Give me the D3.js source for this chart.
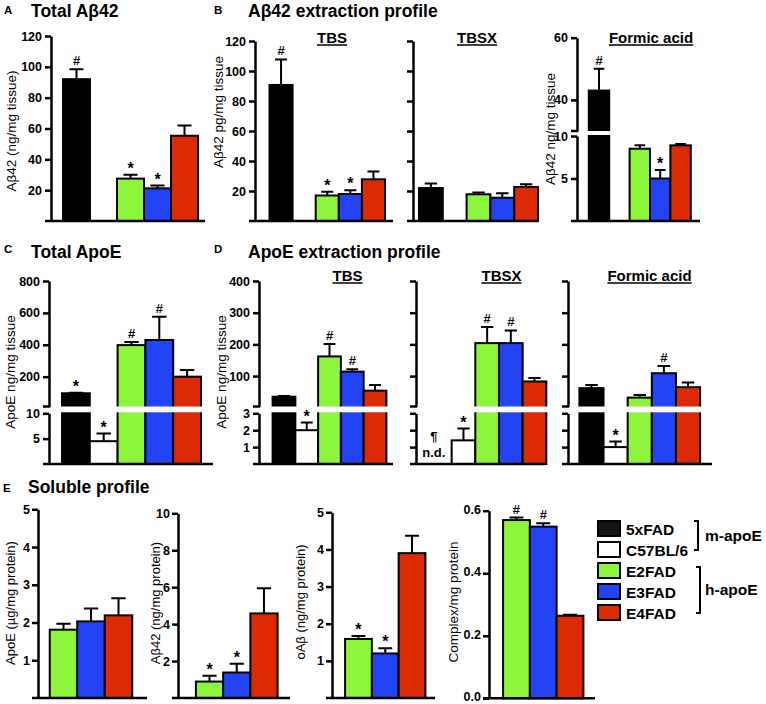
<!DOCTYPE html>
<html><head><meta charset="utf-8">
<script src="https://cdn.jsdelivr.net/npm/d3@7"></script>
<style>body{margin:0;background:#fff}svg{display:block}</style>
</head><body><svg id="c" width="766" height="704"></svg>
<script>
// ---------------- DATA ----------------
const groups = ["5xFAD", "C57BL/6", "E2FAD", "E3FAD", "E4FAD"];
const hGroups = ["E2FAD", "E3FAD", "E4FAD"];
const legendBrackets = [{label: "m-apoE", from: 0, to: 1}, {label: "h-apoE", from: 2, to: 4}];

// A  Total Aβ42 (ng/mg tissue)
const totalAb42     = [92, null, 27.5, 21.2, 55.3];
const totalAb42Sem  = [6.5, null, 2.5, 1.8, 6.7];
const totalAb42Sig  = ["#", "", "*", "*", ""];
// B  Aβ42 extraction profile
const tbsAb42       = [90.7, null, 17, 18, 27.8];
const tbsAb42Sem    = [17, null, 2.5, 2.5, 5.2];
const tbsAb42Sig    = ["#", "", "*", "*", ""];
const tbsxAb42      = [22, null, 17.8, 15.5, 22.7];
const tbsxAb42Sem   = [3, null, 1.2, 3, 1.8];
const tbsxAb42Sig   = ["", "", "", "", ""];
const faAb42        = [43, null, 8.5, 5.0, 8.9];
const faAb42Sem     = [7, null, 0.4, 1.0, 0.15];
const faAb42Sig     = ["#", "", "", "*", ""];
// C  Total ApoE (ng/mg tissue)
const totalApoE     = [96, 4.5, 398, 430, 200];
const totalApoESem  = [4, 1.5, 19, 146, 42];
const totalApoESig  = ["*", "*", "#", "#", ""];
// D  ApoE extraction profile
const tbsApoE       = [35, 2.0, 162, 114, 54];
const tbsApoESem    = [2, 0.45, 39, 7.5, 18];
const tbsApoESig    = ["", "*", "#", "#", ""];
const tbsxApoE      = [null, 1.4, 204, 204, 83];
const tbsxApoESem   = [null, 0.7, 51, 40, 11];
const tbsxApoESig   = ["¶", "*", "#", "#", ""];
const faApoE        = [62, 1.0, 32, 109, 65];
const faApoESem     = [10, 0.33, 8, 23, 14.5];
const faApoESig     = ["", "*", "", "#", ""];
// E  Soluble profile
const solApoE       = [1.81, 2.03, 2.19];
const solApoESem    = [0.16, 0.34, 0.45];
const solAb42       = [0.89, 1.38, 4.58];
const solAb42Sem    = [0.31, 0.47, 1.36];
const solAb42Sig    = ["*", "*", ""];
const solOAb        = [1.59, 1.20, 3.90];
const solOAbSem     = [0.08, 0.14, 0.47];
const solOAbSig     = ["*", "*", ""];
const complex       = [0.570, 0.549, 0.264];
const complexSem    = [0.008, 0.011, 0.003];
const complexSig    = ["#", "#", ""];

// ---------------- STYLE ----------------
const FONT = '"Liberation Sans", Arial, Helvetica, sans-serif';
const color = d3.scaleOrdinal().domain(groups).range(["#000000", "#ffffff", "#8cf53c", "#2244f6", "#dc2a04"]);
const svg = d3.select("#c").attr("font-family", FONT);

function brokenScale(lo, up) {
  const l = d3.scaleLinear().domain(lo.domain).range(lo.range);
  const u = up ? d3.scaleLinear().domain(up.domain).range(up.range) : null;
  const f = v => (u && v > lo.domain[1]) ? u(v) : l(v);
  f.lower = l; f.upper = u;
  return f;
}

function drawPanel(p) {
  const g = svg.append("g");
  const x = d3.scaleBand().domain(p.groups).range(p.xRange).paddingInner(0).paddingOuter(0);
  const y = brokenScale(p.lower, p.upper);
  const base = p.lower.range[0];
  const rows = p.groups.map((name, i) => ({name, v: p.values[i], e: p.sem[i], s: p.sig ? p.sig[i] : ""}));
  const bars = rows.filter(d => d.v != null);
  const cx = d => x(d.name) + x.bandwidth() / 2;

  g.selectAll("rect.bar").data(bars).join("rect").attr("class", "bar")
    .attr("x", d => x(d.name)).attr("width", x.bandwidth())
    .attr("y", d => y(d.v)).attr("height", d => base - y(d.v))
    .attr("fill", d => color(d.name)).attr("stroke", "#000").attr("stroke-width", 2);

  g.selectAll("path.err").data(bars).join("path").attr("class", "err")
    .attr("d", d => {
      const y0 = y(d.v), y1 = y(d.v + d.e), hw = x.bandwidth() * 0.26;
      return `M${cx(d)},${y0}V${y1}M${cx(d) - hw},${y1}H${cx(d) + hw}`;
    })
    .attr("stroke", "#000").attr("stroke-width", 2).attr("fill", "none");

  // white break band
  if (p.upper) {
    g.append("rect").attr("x", p.axisX + 2).attr("width", p.xEnd - p.axisX + 2)
      .attr("y", p.upper.range[0]).attr("height", p.lower.range[1] - p.upper.range[0] - 1)
      .attr("fill", "#fff");
  }

  // significance marks
  g.selectAll("text.sig").data(rows.filter(d => d.s)).join("text").attr("class", "sig")
    .attr("x", d => d.v == null ? cx(d) - 6 : cx(d))
    .attr("y", d => d.v == null ? base - 23 : (d.s === "*" ? y(d.v + d.e) - 1 : y(d.v + d.e) - 4))
    .attr("text-anchor", "middle").attr("font-weight", "bold")
    .attr("font-size", d => d.s === "*" ? 16 : 13).text(d => d.s);
  if (p.nd) {
    rows.filter(d => d.v == null).forEach(d => {
      g.append("text").attr("x", cx(d) - 6).attr("y", base - 7).attr("text-anchor", "middle")
        .attr("font-weight", "bold").attr("font-size", 13).text("n.d.");
    });
  }

  // axes
  const fmt = p.fmt ? d3.format(p.fmt) : d3.format("d");
  const seg = (scale, ticks) => {
    const a = d3.axisLeft(scale).tickValues(ticks).tickSize(6).tickSizeOuter(0).tickPadding(p.pad || 3)
      .tickFormat(p.noLabels ? "" : fmt);
    const ag = g.append("g").attr("transform", `translate(${p.axisX},0)`).call(a)
      .attr("font-family", FONT).attr("font-size", 12.5).attr("font-weight", "bold");
    ag.select(".domain").attr("stroke-width", 2.5);
    ag.selectAll(".tick line").attr("stroke-width", 2.5);
    ag.selectAll(".tick text").attr("fill", "#000");
    if (p.tickDy) ag.selectAll(".tick text").attr("dy", p.tickDy);
  };
  seg(y.lower, p.ticks);
  if (p.upper) {
    seg(y.upper, p.ticksUpper);
    g.append("line").attr("x1", p.axisX - 6).attr("x2", p.axisX + 1)
      .attr("y1", p.upper.range[0]).attr("y2", p.upper.range[0])
      .attr("stroke", "#000").attr("stroke-width", 2.5);
  }
  g.append("line").attr("x1", p.axisX - 6).attr("x2", p.xEnd).attr("y1", base).attr("y2", base)
    .attr("stroke", "#000").attr("stroke-width", 2.5);

  if (p.label) {
    g.append("text").attr("transform", `translate(${p.labelX},${p.labelY}) rotate(-90)`)
      .attr("text-anchor", "middle").attr("dy", "0.35em").attr("font-size", p.labelSize || 13.5).text(p.label);
  }
  if (p.subtitle) {
    const t = g.append("text").attr("x", p.subX).attr("y", p.subY).attr("text-anchor", "middle")
      .attr("font-weight", "bold").attr("font-size", 15).text(p.subtitle);
    const w = t.node().getComputedTextLength();
    g.append("line").attr("x1", p.subX - w / 2).attr("x2", p.subX + w / 2)
      .attr("y1", p.subY + 2.5).attr("y2", p.subY + 2.5).attr("stroke", "#000").attr("stroke-width", 1.5);
  }
}

const ab120 = [20, 40, 60, 80, 100, 120];
const panels = [
  {groups, values: totalAb42, sem: totalAb42Sem, sig: totalAb42Sig, axisX: 51, xRange: [63, 198], xEnd: 205,
   lower: {domain: [0, 120], range: [221, 36]}, ticks: ab120, label: "Aβ42 (ng/mg tissue)", labelX: 11, labelY: 131},
  {groups, values: tbsAb42, sem: tbsAb42Sem, sig: tbsAb42Sig, axisX: 255, xRange: [269.5, 385], xEnd: 393,
   lower: {domain: [0, 120], range: [221, 41]}, ticks: ab120, label: "Aβ42 pg/mg tissue", labelX: 218, labelY: 112,
   subtitle: "TBS", subX: 332, subY: 42.5},
  {groups, values: tbsxAb42, sem: tbsxAb42Sem, sig: tbsxAb42Sig, axisX: 413, xRange: [419, 538], xEnd: 538,
   lower: {domain: [0, 120], range: [221, 41]}, ticks: ab120, noLabels: true, subtitle: "TBSX", subX: 477, subY: 42.5},
  {groups, values: faAb42, sem: faAb42Sem, sig: faAb42Sig, axisX: 577, xRange: [588.8, 690.8], xEnd: 700,
   lower: {domain: [0, 10], range: [221, 136]}, upper: {domain: [30, 60], range: [131, 37.7]},
   ticks: [5, 10], ticksUpper: [40, 60], label: "Aβ42 ng/mg tissue", labelX: 550, labelY: 129,
   subtitle: "Formic acid", subX: 651, subY: 42.5},
  {groups, values: totalApoE, sem: totalApoESem, sig: totalApoESig, axisX: 49, xRange: [62, 201], xEnd: 213,
   lower: {domain: [0, 10], range: [464, 413.3]}, upper: {domain: [13, 800], range: [406.5, 281]},
   ticks: [5, 10], ticksUpper: [200, 400, 600, 800], label: "ApoE ng/mg tissue", labelX: 10, labelY: 372},
  {groups, values: tbsApoE, sem: tbsApoESem, sig: tbsApoESig, axisX: 259, xRange: [272.6, 386.4], xEnd: 393,
   lower: {domain: [0, 3], range: [464, 413.3]}, upper: {domain: [4, 400], range: [406.5, 281]},
   ticks: [1, 2, 3], ticksUpper: [100, 200, 300, 400], label: "ApoE ng/mg tissue", labelX: 221, labelY: 372,
   subtitle: "TBS", subX: 347.5, subY: 280.5},
  {groups, values: tbsxApoE, sem: tbsxApoESem, sig: tbsxApoESig, nd: true, axisX: 416, xRange: [428, 546.3], xEnd: 545,
   lower: {domain: [0, 3], range: [464, 413.3]}, upper: {domain: [4, 400], range: [406.5, 281]},
   ticks: [1, 2, 3], ticksUpper: [100, 200, 300, 400], noLabels: true, subtitle: "TBSX", subX: 501.5, subY: 280.5},
  {groups, values: faApoE, sem: faApoESem, sig: faApoESig, axisX: 568, xRange: [579.4, 700.1], xEnd: 712,
   lower: {domain: [0, 3], range: [464, 413.3]}, upper: {domain: [4, 400], range: [406.5, 281]},
   ticks: [1, 2, 3], ticksUpper: [100, 200, 300, 400], noLabels: true, subtitle: "Formic acid", subX: 649.5, subY: 280.5},
  {groups: hGroups, values: solApoE, sem: solApoESem, axisX: 38, xRange: [49.75, 132.25], xEnd: 147, pad: 2,
   lower: {domain: [0, 5], range: [698, 509.3]}, ticks: [1, 2, 3, 4, 5], label: "ApoE (µg/mg protein)", labelX: 10, labelY: 603, labelSize: 13},
  {groups: hGroups, values: solAb42, sem: solAb42Sem, sig: solAb42Sig, axisX: 178, xRange: [195.9, 277.6], xEnd: 290, pad: 2,
   lower: {domain: [0, 10], range: [698, 513.3]}, ticks: [2, 4, 6, 8, 10], label: "Aβ42 (ng/mg protein)", labelX: 155, labelY: 603, labelSize: 13},
  {groups: hGroups, values: solOAb, sem: solOAbSem, sig: solOAbSig, axisX: 332, xRange: [345.1, 425.4], xEnd: 435, pad: 2,
   lower: {domain: [0, 5], range: [698, 512.3]}, ticks: [1, 2, 3, 4, 5], label: "oAβ (ng/mg protein)", labelX: 300, labelY: 602, labelSize: 13},
  {groups: hGroups, values: complex, sem: complexSem, sig: complexSig, axisX: 489, xRange: [503.1, 583.4], xEnd: 595, pad: 2,
   lower: {domain: [0, 0.6], range: [698.3, 510.7]}, ticks: [0, 0.2, 0.4, 0.6], fmt: ".1f", tickDy: "0.2em",
   label: "Complex/mg protein", labelX: 453, labelY: 602, labelSize: 13.5},
];
panels.forEach(drawPanel);

// panel letters & titles
const headers = [
  {letter: "A", lx: 4, ly: 13.5, title: "Total Aβ42", tx: 31, ty: 16.5},
  {letter: "B", lx: 214, ly: 13.5, title: "Aβ42 extraction profile", tx: 248, ty: 16.5},
  {letter: "C", lx: 4, ly: 253, title: "Total ApoE", tx: 31, ty: 258},
  {letter: "D", lx: 214, ly: 253, title: "ApoE extraction profile", tx: 248, ty: 258},
  {letter: "E", lx: 3, ly: 492, title: "Soluble profile", tx: 28, ty: 493},
];
headers.forEach(h => {
  svg.append("text").attr("x", h.lx).attr("y", h.ly).attr("font-weight", "bold").attr("font-size", 11.5).text(h.letter);
  svg.append("text").attr("x", h.tx).attr("y", h.ty).attr("font-weight", "bold").attr("font-size", 17.5).text(h.title);
});

// legend
const lg = svg.append("g");
const rowTop = i => 521 + i * 21;
groups.forEach((name, i) => {
  lg.append("rect").attr("x", 598).attr("y", rowTop(i)).attr("width", 22).attr("height", 15)
    .attr("fill", name === "5xFAD" ? "#151515" : color(name)).attr("stroke", "#000").attr("stroke-width", 2);
  lg.append("text").attr("x", 626).attr("y", rowTop(i) + 14).attr("font-weight", "bold").attr("font-size", 15.5).text(name);
});
legendBrackets.forEach((b, k) => {
  const y0 = rowTop(b.from) + (k ? 4 : 0), y1 = rowTop(b.to) + 8, bx = k ? 700 : 698;
  lg.append("path").attr("d", `M${bx - 4},${y0}H${bx}V${y1}H${bx - 4}`)
    .attr("fill", "none").attr("stroke", "#000").attr("stroke-width", 2);
  lg.append("text").attr("x", 705).attr("y", (y0 + y1) / 2 + 5).attr("font-weight", "bold").attr("font-size", 15.5).text(b.label);
});
</script>
</body></html>
